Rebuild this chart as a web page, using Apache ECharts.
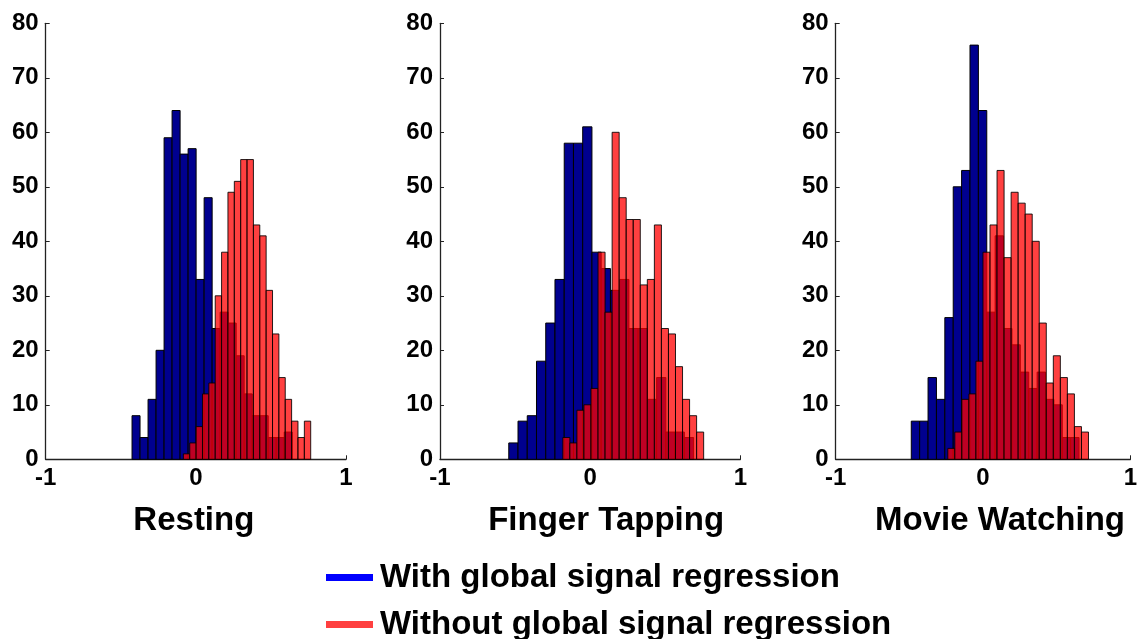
<!DOCTYPE html>
<html><head><meta charset="utf-8">
<script src="https://cdn.jsdelivr.net/npm/echarts@6/dist/echarts.min.js"></script>
<style>html,body{margin:0;padding:0;background:#fff}#c{width:1140px;height:639px}</style>
</head><body><div id="c"></div>
<script>
// ---- data ----
const panelTitles = ['Resting', 'Finger Tapping', 'Movie Watching'];
const seriesNames = ['With global signal regression', 'Without global signal regression'];
const xTicks = [-1, 0, 1];
const yTicks = [0, 10, 20, 30, 40, 50, 60, 70, 80];

// histogram counts (20 bins each) and bin range [first edge, last edge]
const restingBlue = [8, 4, 11, 20, 59, 64, 56, 57, 33, 48, 24, 27, 25, 19, 12, 8, 8, 4, 4, 5];
const restingBlueRange = [-0.425, 0.642];
const restingRed = [1, 3, 6, 12, 14, 30, 38, 49, 51, 55, 55, 43, 41, 31, 23, 15, 11, 7, 4, 7];
const restingRedRange = [-0.083, 0.765];

const tappingBlue = [3, 7, 8, 18, 25, 33, 58, 58, 61, 38, 35, 31, 33, 24, 24, 11, 15, 5, 5, 4];
const tappingBlueRange = [-0.542, 0.689];
const tappingRed = [4, 3, 9, 10, 13, 38, 27, 60, 48, 44, 44, 32, 33, 43, 24, 23, 17, 11, 8, 5];
const tappingRedRange = [-0.182, 0.756];

const movieBlue = [7, 7, 15, 11, 26, 50, 53, 76, 64, 27, 41, 24, 21, 16, 13, 16, 11, 10, 4, 4];
const movieBlueRange = [-0.487, 0.652];
const movieRed = [2, 5, 11, 12, 18, 38, 43, 53, 37, 49, 47, 45, 40, 25, 14, 19, 15, 12, 6, 5];
const movieRedRange = [-0.239, 0.716];

// ---- build ----
const FONT = '"Liberation Sans", Arial, Helvetica, sans-serif';
const panels = [
  { blue: restingBlue, blueRange: restingBlueRange, red: restingRed, redRange: restingRedRange },
  { blue: tappingBlue, blueRange: tappingBlueRange, red: tappingRed, redRange: tappingRedRange },
  { blue: movieBlue, blueRange: movieBlueRange, red: movieRed, redRange: movieRedRange }
];
function toBins(counts, range) {
  const w = (range[1] - range[0]) / counts.length;
  return counts.map((c, i) => [range[0] + i * w, range[0] + (i + 1) * w, c]);
}
const gridLefts = [45.7, 440, 835.7];
const gridW = 300.3;
const titleShift = [-4, 32, 34];

const grids = [], xAxes = [], yAxes = [], series = [];
const axisLine = { show: true, onZero: false, lineStyle: { color: '#222', width: 1.3 } };
const labelStyle = { fontFamily: FONT, fontWeight: 'bold', fontSize: 24, color: '#000' };

panels.forEach((p, i) => {
  grids.push({ left: gridLefts[i], width: gridW, top: 23.3, bottom: 639 - 459.3, containLabel: false });
  const sh = titleShift[i];
  xAxes.push({
    type: 'value', gridIndex: i, min: xTicks[0], max: xTicks[xTicks.length - 1], interval: 1,
    name: panelTitles[i], nameLocation: 'middle', nameGap: 45,
    nameTextStyle: { fontFamily: FONT, fontWeight: 'bold', fontSize: 33, color: '#000',
      padding: sh >= 0 ? [0, 0, 0, sh] : [0, -sh, 0, 0] },
    axisLine: axisLine, axisTick: { show: true, inside: true, length: 4, lineStyle: { color: '#222' } },
    axisLabel: Object.assign({ margin: 7 }, labelStyle),
    splitLine: { show: false }
  });
  yAxes.push({
    type: 'value', gridIndex: i, min: yTicks[0], max: yTicks[yTicks.length - 1], interval: 10,
    axisLine: axisLine, axisTick: { show: true, inside: true, length: 4, lineStyle: { color: '#222' } },
    axisLabel: Object.assign({ margin: 7 }, labelStyle),
    splitLine: { show: false }
  });
  const mk = (name, data, fill, stroke) => ({
    type: 'custom', name: name, xAxisIndex: i, yAxisIndex: i,
    data: data, encode: { x: [0, 1], y: 2 },
    itemStyle: { color: fill },
    renderItem: function (params, api) {
      const p0 = api.coord([api.value(0), 0]);
      const p1 = api.coord([api.value(1), api.value(2)]);
      return {
        type: 'rect',
        shape: { x: p0[0], y: p1[1], width: p1[0] - p0[0], height: p0[1] - p1[1] },
        style: { fill: fill, stroke: stroke, lineWidth: 1 }
      };
    }
  });
  series.push(mk(seriesNames[0], toBins(p.blue, p.blueRange), '#00008f', '#000'));
  series.push(mk(seriesNames[1], toBins(p.red, p.redRange), 'rgba(255,0,0,0.75)', 'rgba(0,0,0,0.85)'));
});

const legendBase = {
  orient: 'horizontal', left: 321,
  itemWidth: 47, itemHeight: 7, icon: 'rect', selectedMode: false,
  textStyle: { fontFamily: FONT, fontWeight: 'bold', fontSize: 33, color: '#000', padding: [0, 0, 0, 2] }
};
const legendColors = ['#0000ff', '#ff4040'];
const legendTops = [556, 603];

const chart = echarts.init(document.getElementById('c'));
chart.setOption({
  animation: false,
  backgroundColor: '#fff',
  grid: grids, xAxis: xAxes, yAxis: yAxes, series: series,
  legend: seriesNames.map((n, k) => Object.assign({}, legendBase, {
    top: legendTops[k],
    data: [{ name: n, itemStyle: { color: legendColors[k], borderWidth: 0, opacity: 1 } }]
  }))
});
</script>
</body></html>
